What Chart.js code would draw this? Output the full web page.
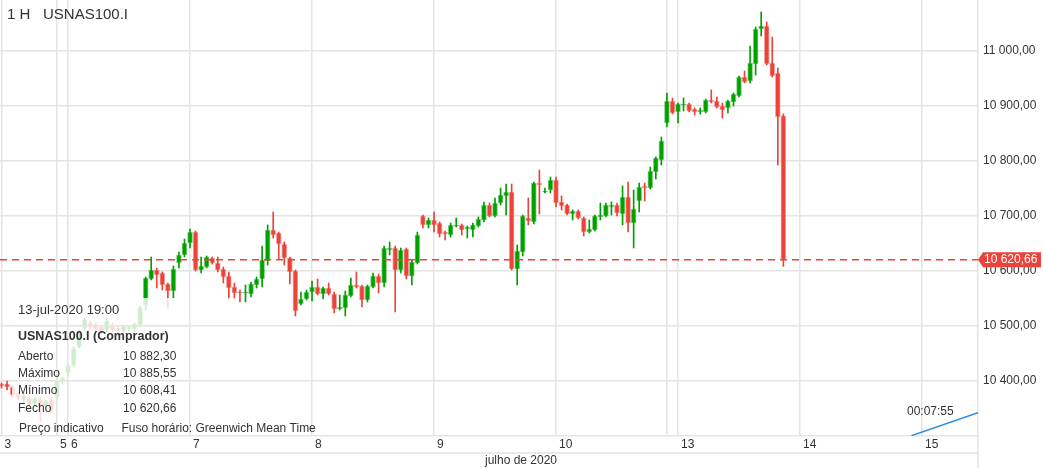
<!DOCTYPE html>
<html>
<head>
<meta charset="utf-8">
<title>USNAS100.I 1 H</title>
<script src="https://cdn.jsdelivr.net/npm/chart.js@4.4.0/dist/chart.umd.min.js"></script>
<style>
  html, body { margin: 0; padding: 0; background: #fff; }
  #wrap { position: relative; width: 1043px; height: 468px; }
</style>
</head>
<body>
<div id="wrap"><canvas id="candles"></canvas></div>
<script>
const FONT = '"Liberation Sans", Arial, sans-serif';
const UP = '#00a000';
const DOWN = '#ea4339';
const GRID = '#e4e4e4';
const GW = 1.5;
const TXT = '#333';

// hourly candles, one slot per trading hour (3 jul .. 13 jul 2020 19:00)
const opens = [
  10394.6, 10394.6, 10389.1, 10376.4, 10365.5, 10369.1, 10358.2, 10367.3, 10354.6, 10365.5,
  10371.0, 10398.2, 10414.6, 10429.1, 10461.9, 10496.4, 10505.5, 10501.8, 10498.2, 10492.7,
  10501.8, 10496.4, 10490.9, 10494.6, 10494.6, 10501.8, 10538.2, 10585.5, 10601.8, 10596.4,
  10576.4, 10563.7, 10614.6, 10629.1, 10650.9, 10670.9, 10601.8, 10607.3, 10623.7, 10614.6,
  10603.7, 10590.9, 10570.9, 10561.8, 10560.0, 10558.2, 10574.6, 10585.5, 10618.2, 10674.6,
  10669.1, 10649.1, 10623.7, 10600.0, 10540.0, 10549.1, 10561.8, 10570.9, 10558.2, 10569.1,
  10558.2, 10530.9, 10532.7, 10554.6, 10574.6, 10572.7, 10547.3, 10570.9, 10590.9, 10578.2,
  10638.2, 10641.8, 10601.8, 10640.0, 10590.9, 10614.6, 10700.0, 10683.7, 10692.7, 10687.3,
  10670.9, 10665.5, 10681.8, 10683.7, 10676.4, 10674.6, 10681.8, 10692.7, 10720.0, 10700.0,
  10723.6, 10736.4, 10743.6, 10603.7, 10634.6, 10696.4, 10689.1, 10760.0, 10743.6, 10747.3,
  10765.5, 10725.5, 10720.0, 10703.6, 10709.1, 10696.4, 10670.9, 10674.6, 10698.2, 10700.0,
  10716.4, 10720.0, 10703.6, 10734.6, 10687.3, 10727.3, 10754.6, 10750.9, 10780.0, 10801.8,
  10869.1, 10909.1, 10889.1, 10901.8, 10903.6, 10894.5, 10889.1, 10889.1, 10910.9, 10909.1,
  10900.0, 10896.4, 10907.3, 10918.2, 10952.7, 10945.4, 10976.3, 11040.0, 11045.4, 10978.2,
  10960.0, 10882.30
];
const highs = [
  10396.4, 10400.0, 10391.0, 10380.0, 10376.4, 10371.0, 10371.0, 10371.0, 10365.5, 10371.0,
  10405.5, 10407.3, 10432.7, 10461.9, 10492.7, 10514.6, 10509.1, 10505.5, 10501.8, 10514.6,
  10505.5, 10498.2, 10501.8, 10500.0, 10505.5, 10536.4, 10589.1, 10625.5, 10605.5, 10598.2,
  10578.2, 10609.1, 10634.6, 10658.2, 10676.4, 10672.7, 10625.5, 10627.3, 10625.5, 10625.5,
  10607.3, 10598.2, 10578.2, 10565.5, 10574.6, 10580.0, 10589.1, 10645.5, 10683.7, 10707.3,
  10670.9, 10652.7, 10625.5, 10601.8, 10561.8, 10565.5, 10581.8, 10585.5, 10570.9, 10578.2,
  10561.8, 10556.4, 10563.7, 10587.3, 10598.2, 10574.6, 10574.6, 10596.4, 10594.6, 10645.5,
  10652.7, 10645.5, 10641.8, 10641.8, 10620.0, 10670.9, 10701.8, 10696.4, 10707.3, 10689.1,
  10672.7, 10687.3, 10696.4, 10685.5, 10681.8, 10687.3, 10698.2, 10725.5, 10723.6, 10732.7,
  10750.9, 10758.2, 10758.2, 10647.3, 10701.8, 10732.7, 10761.8, 10783.6, 10750.9, 10770.9,
  10770.9, 10736.4, 10721.8, 10710.9, 10710.9, 10698.2, 10692.7, 10701.8, 10723.6, 10723.6,
  10725.5, 10723.6, 10754.6, 10761.8, 10747.3, 10760.0, 10760.0, 10789.1, 10807.3, 10843.6,
  10923.6, 10914.5, 10905.4, 10914.5, 10905.4, 10896.4, 10896.4, 10912.7, 10929.1, 10916.4,
  10905.4, 10910.9, 10923.6, 10954.5, 10963.6, 11009.1, 11043.6, 11070.9, 11052.7, 11025.4,
  10969.1, 10885.55
];
const lows = [
  10387.3, 10383.7, 10371.0, 10365.5, 10360.0, 10351.0, 10354.6, 10325.5, 10351.0, 10341.9,
  10367.3, 10394.6, 10410.9, 10425.5, 10460.0, 10492.7, 10494.6, 10490.9, 10487.3, 10489.1,
  10489.1, 10487.3, 10487.3, 10490.9, 10490.9, 10498.2, 10529.1, 10583.7, 10569.1, 10565.5,
  10532.7, 10550.9, 10605.5, 10625.5, 10641.8, 10600.0, 10596.4, 10605.5, 10612.7, 10598.2,
  10578.2, 10550.9, 10550.9, 10543.7, 10543.7, 10552.7, 10569.1, 10570.9, 10610.9, 10660.0,
  10621.8, 10610.9, 10576.4, 10518.2, 10538.2, 10547.3, 10545.5, 10556.4, 10549.1, 10556.4,
  10523.7, 10529.1, 10518.2, 10552.7, 10569.1, 10534.6, 10543.7, 10569.1, 10560.0, 10570.9,
  10629.1, 10525.5, 10596.4, 10585.5, 10574.6, 10612.7, 10678.2, 10678.2, 10670.9, 10661.8,
  10656.4, 10661.8, 10680.0, 10665.5, 10660.0, 10661.8, 10680.0, 10689.1, 10698.2, 10698.2,
  10720.0, 10701.8, 10601.8, 10574.6, 10627.3, 10683.7, 10685.5, 10703.6, 10741.8, 10741.8,
  10716.4, 10710.9, 10701.8, 10692.7, 10694.6, 10663.7, 10669.1, 10672.7, 10692.7, 10698.2,
  10701.8, 10700.0, 10683.7, 10670.9, 10641.8, 10707.3, 10727.3, 10749.1, 10767.3, 10792.7,
  10861.8, 10885.4, 10869.1, 10890.9, 10889.1, 10883.6, 10885.4, 10887.3, 10905.4, 10896.4,
  10878.2, 10887.3, 10900.0, 10916.4, 10941.8, 10941.8, 10956.3, 11027.3, 10974.5, 10952.7,
  10792.7, 10608.41
];
const closes = [
  10391.0, 10389.1, 10374.6, 10369.1, 10372.8, 10356.4, 10369.1, 10354.6, 10363.7, 10347.3,
  10401.8, 10405.5, 10429.1, 10458.2, 10489.1, 10510.9, 10498.2, 10494.6, 10490.9, 10509.1,
  10492.7, 10490.9, 10500.0, 10498.2, 10503.7, 10532.7, 10587.3, 10601.8, 10592.7, 10574.6,
  10563.7, 10603.7, 10629.1, 10650.9, 10670.9, 10601.8, 10609.1, 10625.5, 10614.6, 10601.8,
  10589.1, 10569.1, 10560.0, 10560.0, 10561.8, 10576.4, 10585.5, 10620.0, 10674.6, 10665.5,
  10649.1, 10623.7, 10598.2, 10527.3, 10549.1, 10561.8, 10570.9, 10558.2, 10569.1, 10558.2,
  10530.9, 10534.6, 10556.4, 10574.6, 10570.9, 10547.3, 10572.7, 10590.9, 10578.2, 10641.8,
  10641.8, 10601.8, 10638.2, 10590.9, 10616.4, 10665.5, 10683.7, 10692.7, 10683.7, 10667.3,
  10667.3, 10683.7, 10683.7, 10674.6, 10680.0, 10683.7, 10694.6, 10720.0, 10700.0, 10723.6,
  10738.2, 10743.6, 10603.7, 10636.4, 10700.0, 10690.9, 10760.0, 10756.4, 10745.5, 10765.5,
  10723.6, 10718.2, 10703.6, 10709.1, 10696.4, 10670.9, 10676.4, 10700.0, 10701.8, 10720.0,
  10720.0, 10705.5, 10734.6, 10687.3, 10712.7, 10752.7, 10750.9, 10781.8, 10805.5, 10836.4,
  10909.1, 10887.3, 10903.6, 10903.6, 10890.9, 10889.1, 10892.7, 10910.9, 10907.3, 10898.2,
  10892.7, 10909.1, 10921.8, 10952.7, 10943.6, 10978.2, 11040.0, 11045.4, 10976.3, 10954.5,
  10880.0, 10620.66
];

// first slot of each day and its label (12 = sunday session, label hidden)
const dayTicks = [0, 10, 12, 34, 56, 78, 100, 120, 122, 144, 166];
const dayLabels = ['3', '5', '6', '7', '8', '9', '10', '', '13', '14', '15'];
const priceTicks = [10400, 10500, 10600, 10700, 10800, 10900, 11000];
const slotRange = [-0.27, 176.1];
const priceRange = [10300, 11092.7];
const lastTime = '13-jul-2020 19:00';
const timerLine = [[164.1, 10300.6], [176.1, 10342.4]];
const timerText = '00:07:55';

function fmt(v) {
  const parts = v.toFixed(2).split('.');
  return parts[0].replace(/\B(?=(\d{3})+(?!\d))/g, ' ') + ',' + parts[1];
}

const idx = opens.map((_, i) => i);
const isUp = i => closes[i] >= opens[i];
const fill = idx.map(i => isUp(i) ? UP : DOWN);
const edge = idx.map(i => isUp(i) ? 'rgba(0,160,0,0.45)' : 'rgba(234,67,57,0.45)');
const last = closes.length - 1;

const overlay = {
  id: 'overlay',
  afterDatasetsDraw(chart) {
    const { ctx, chartArea } = chart;
    // info box fades the candles behind it, grid stays visible
    ctx.save();
    ctx.fillStyle = 'rgba(255,255,255,0.8)';
    ctx.fillRect(12, 298, 178, 125);
    ctx.beginPath();
    ctx.rect(12, 298, 178, 125);
    ctx.clip();
    chart.scales.x.drawGrid(chartArea);
    chart.scales.y.drawGrid(chartArea);
    ctx.restore();
  },
  afterDraw(chart) {
    const { ctx, chartArea: a, scales: { y } } = chart;
    ctx.save();
    ctx.textBaseline = 'middle';
    ctx.fillStyle = TXT;

    ctx.font = '15px ' + FONT;
    ctx.fillText('1 H', 7, 15);
    ctx.fillText('USNAS100.I', 43, 15);

    ctx.font = '13px ' + FONT;
    ctx.fillText(lastTime, 18, 310);
    ctx.font = 'bold 12.5px ' + FONT;
    ctx.fillText('USNAS100.I (Comprador)', 18, 337);
    ctx.font = '12px ' + FONT;
    const rows = [['Aberto', opens[last]], ['Máximo', highs[last]], ['Mínimo', lows[last]], ['Fecho', closes[last]]];
    rows.forEach((r, k) => {
      const ry = 356.5 + k * 17.3;
      ctx.fillText(r[0], 18, ry);
      ctx.fillText(fmt(r[1]), 123, ry);
    });
    ctx.fillText('Preço indicativo', 19, 428.5);
    ctx.fillText('Fuso horário: Greenwich Mean Time', 121.5, 428.5);
    ctx.fillText(timerText, 907, 411.5);

    ctx.textAlign = 'center';
    ctx.fillText('julho de 2020', 521, 461);
    ctx.textAlign = 'left';

    // bottom frame lines
    ctx.strokeStyle = GRID;
    ctx.lineWidth = GW;
    ctx.beginPath();
    ctx.moveTo(a.left, 453);
    ctx.lineTo(a.right, 453);
    ctx.moveTo(a.right, a.bottom);
    ctx.lineTo(a.right, 468);
    ctx.stroke();

    // last price tag
    const py = y.getPixelForValue(closes[last]);
    ctx.fillStyle = DOWN;
    ctx.beginPath();
    ctx.moveTo(a.right, py);
    ctx.lineTo(a.right + 5, py - 7.5);
    ctx.lineTo(1041, py - 7.5);
    ctx.lineTo(1041, py + 7.5);
    ctx.lineTo(a.right + 5, py + 7.5);
    ctx.closePath();
    ctx.fill();
    ctx.fillStyle = '#fff';
    ctx.font = '12px ' + FONT;
    ctx.fillText(fmt(closes[last]), a.right + 6, py + 0.5);
    ctx.restore();
  }
};

const ctx = document.getElementById('candles').getContext('2d');
const candleChart = new Chart(ctx, {
  type: 'bar',
  data: {
    datasets: [
      {
        label: 'Corpo',
        data: idx.map(i => ({ x: i, y: [opens[i], closes[i]] })),
        backgroundColor: fill,
        borderColor: edge,
        borderWidth: 1,
        borderSkipped: false,
        barThickness: 5,
        grouped: false,
        order: 1
      },
      {
        label: 'Sombra',
        data: idx.map(i => ({ x: i, y: [lows[i], highs[i]] })),
        backgroundColor: fill,
        barThickness: 1,
        grouped: false,
        order: 2
      },
      {
        type: 'line',
        label: 'Último',
        data: [{ x: slotRange[0], y: closes[last] }, { x: slotRange[1], y: closes[last] }],
        borderColor: DOWN,
        borderWidth: 1.5,
        borderDash: [7, 5],
        pointRadius: 0,
        order: 0
      },
      {
        type: 'line',
        label: 'Timer',
        data: timerLine.map(p => ({ x: p[0], y: p[1] })),
        borderColor: '#2a8be0',
        borderWidth: 1.5,
        pointRadius: 0,
        order: 0
      }
    ]
  },
  options: {
    responsive: true,
    maintainAspectRatio: false,
    animation: false,
    layout: { padding: 0 },
    plugins: {
      legend: { display: false },
      tooltip: { enabled: false }
    },
    scales: {
      x: {
        type: 'linear',
        min: slotRange[0],
        max: slotRange[1],
        offset: false,
        grid: { color: GRID, lineWidth: GW, drawTicks: false, offset: false },
        border: { color: GRID, width: GW },
        afterBuildTicks: s => { s.ticks = dayTicks.map(v => ({ value: v })); },
        afterFit: s => { s.height = 32; s.paddingLeft = 0; s.paddingRight = 0; },
        ticks: {
          autoSkip: false,
          maxRotation: 0,
          align: 'start',
          labelOffset: 3,
          padding: 1,
          color: TXT,
          font: { family: FONT, size: 12 },
          callback: (v, i) => dayLabels[i]
        }
      },
      y: {
        position: 'right',
        min: priceRange[0],
        max: priceRange[1],
        grid: { color: GRID, lineWidth: GW, drawTicks: false },
        border: { color: GRID, width: GW },
        afterBuildTicks: s => { s.ticks = priceTicks.map(v => ({ value: v })); },
        afterFit: s => { s.width = 65; s.paddingTop = 0; s.paddingBottom = 0; },
        ticks: {
          padding: 5,
          color: TXT,
          font: { family: FONT, size: 12 },
          callback: v => fmt(v)
        }
      }
    }
  },
  plugins: [overlay]
});
</script>
</body>
</html>
